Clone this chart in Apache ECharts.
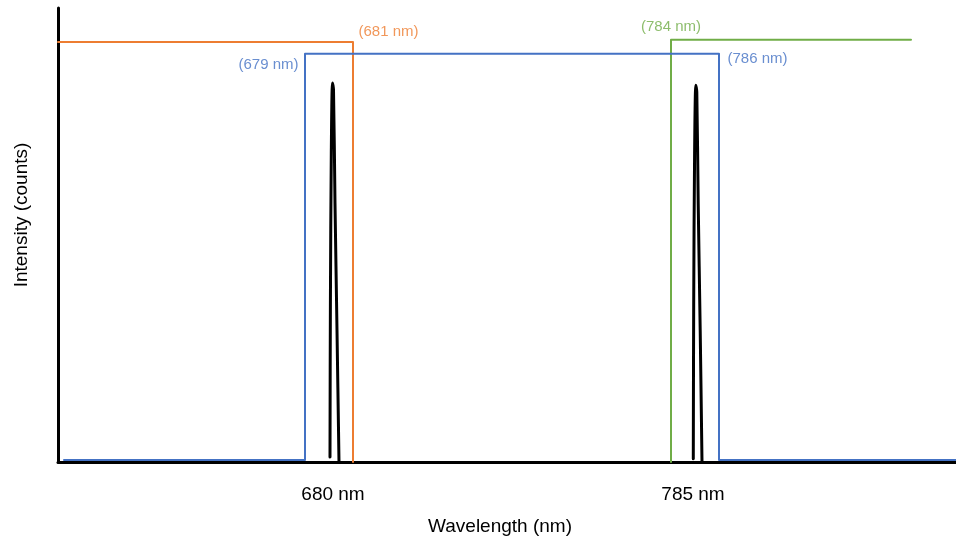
<!DOCTYPE html>
<html>
<head>
<meta charset="utf-8">
<script src="https://cdn.jsdelivr.net/npm/echarts@6/dist/echarts.min.js"></script>
<style>html,body{margin:0;padding:0;background:#fff}#c{width:956px;height:539px}</style>
</head>
<body>
<div id="c"></div>
<script>
// Schematic coordinates: x in arbitrary position units (0..898), y intensity 0..100
const xMin = 0, xMax = 898, yMin = 0, yMax = 100;
const tickPositions = [275, 635];
const tickLabels = ['680 nm', '785 nm'];

const orangeFilter = [[0, 92.5], [295, 92.5], [295, 0]];
const blueFilter = [[6, 0.45], [247, 0.45], [247, 89.9], [661, 89.9], [661, 0.45], [898, 0.45]];
const greenFilter = [[613, 0], [613, 93], [853, 93]];

const peak680 = [[272, 1.1], [272.4, 35], [273.3, 68], [274.5, 83.5], [275.5, 82], [277, 57], [279, 29], [281, 0]];
const peak785 = [[635.3, 0.7], [635.7, 35], [636.6, 68], [637.8, 83.0], [638.8, 81.5], [640.2, 57], [642.2, 29], [644, 0]];

const annotationNames = ['(681 nm)', '(679 nm)', '(784 nm)', '(786 nm)'];
const annotationAnchors = [[295, 92.5], [247, 89.9], [613, 93], [661, 89.9]];

const cOrange = '#ED7D31', cBlue = '#4472C4', cGreen = '#70AD47';
const font = '"Liberation Sans", Arial, sans-serif';

const labelStyles = [
  { color: cOrange, position: 'right', distance: 5, offset: [0, -10] },
  { color: cBlue, position: 'left', distance: 6, offset: [0, 11] },
  { color: cGreen, position: 'top', distance: 5, offset: [0, 0] },
  { color: cBlue, position: 'right', distance: 8, offset: [0, 5] }
];

const chart = echarts.init(document.getElementById('c'), null, { renderer: 'canvas' });

const lineSeries = (data, color, width, z, smooth) => ({
  type: 'line', data: data, showSymbol: false, symbol: 'none', smooth: smooth || false,
  lineStyle: { color: color, width: width, cap: 'round', join: 'round' }, z: z, silent: true
});

chart.setOption({
  animation: false,
  backgroundColor: '#fff',
  grid: { left: 58, right: 0, top: 8, bottom: 77, containLabel: false, outerBoundsMode: 'none' },
  xAxis: {
    type: 'value', min: xMin, max: xMax,
    name: 'Wavelength (nm)', nameLocation: 'middle', nameGap: 55,
    nameTextStyle: { fontSize: 19, color: '#000', fontFamily: font, padding: [0, 14, 0, 0] },
    axisLine: { show: true, lineStyle: { color: '#000', width: 3 } },
    axisTick: { show: false },
    splitLine: { show: false },
    axisLabel: {
      customValues: tickPositions,
      formatter: function (v) { const i = tickPositions.indexOf(v); return i >= 0 ? tickLabels[i] : ''; },
      fontSize: 19, color: '#000', fontFamily: font, margin: 23
    }
  },
  yAxis: {
    type: 'value', min: yMin, max: yMax,
    name: 'Intensity (counts)', nameLocation: 'middle', nameGap: 27,
    nameTextStyle: { fontSize: 19, color: '#000', fontFamily: font, padding: [0, 0, 0, 40] },
    axisLine: { show: true, lineStyle: { color: '#000', width: 3 } },
    axisTick: { show: false }, axisLabel: { show: false }, splitLine: { show: false }
  },
  series: [
    lineSeries(orangeFilter, cOrange, 2, 2),
    lineSeries(greenFilter, cGreen, 2, 2),
    lineSeries(blueFilter, cBlue, 2, 3),
    lineSeries(peak680, '#000', 3, 4, 0.3),
    lineSeries(peak785, '#000', 3, 4, 0.3),
    {
      type: 'scatter', symbolSize: 1, itemStyle: { color: 'rgba(0,0,0,0)' }, z: 5, silent: true,
      data: annotationNames.map((n, i) => ({
        value: annotationAnchors[i], name: n,
        label: {
          show: true, formatter: n, fontSize: 15, fontFamily: font,
          color: labelStyles[i].color, position: labelStyles[i].position,
          distance: labelStyles[i].distance, offset: labelStyles[i].offset
        }
      }))
    }
  ]
});
</script>
</body>
</html>
